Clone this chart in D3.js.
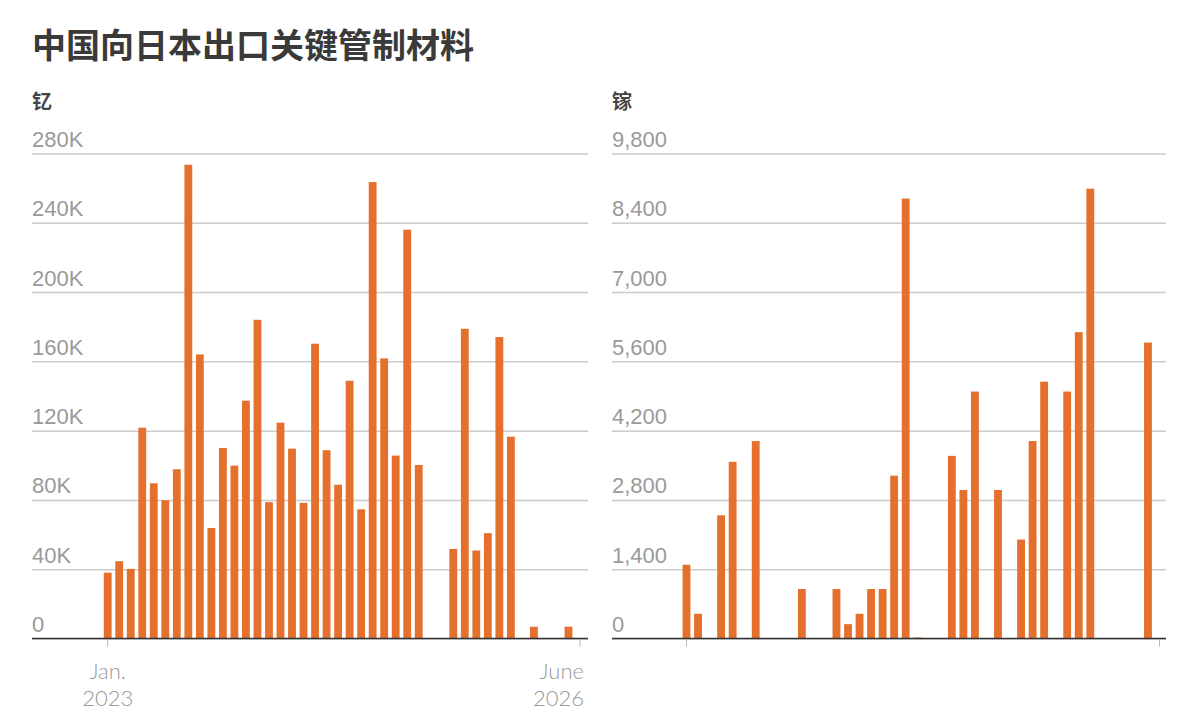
<!DOCTYPE html>
<html>
<head>
<meta charset="UTF-8">
<title>中国向日本出口关键管制材料</title>
<style>
    body {
        margin: 0;
        background-color: #ffffff;
    }
    svg {
        display: block;
        font-family: Lato, "Noto Sans", sans-serif;
    }
    .cjk {
        font-family: "Noto Sans CJK SC", sans-serif;
    }
    .grid line {
        stroke: #cccccc;
        stroke-width: 1.5;
    }
    .grid text, .xlab {
        fill: #9a9a9a;
        font-size: 22px;
        font-weight: 300;
    }
</style>
</head>
<body>
<svg id="chart" width="1200" height="715"></svg>

<script src="https://d3js.org/d3.v7.min.js"></script>
<script>
    // monthly, Jan. 2023 .. June 2026
    var months = d3.timeMonths(new Date(2023, 0, 1), new Date(2026, 6, 1));

    // 钇 (yttrium) exports
    var yttrium = [
        38000, 44600, 40200, 121700, 89600, 79800, 97700, 273500, 164000, 63800, 110000, 99800,
        137300, 184000, 78700, 124600, 109600, 78300, 170200, 108700, 88800, 148800, 74600, 263500,
        161700, 105600, 236000, 100200, 0, 0, 51700, 178800, 50800, 60800, 174000, 116500,
        0, 6800, 0, 0, 6800, 0
    ];

    // 镓 (gallium) exports
    var gallium = [
        1490, 500, 0, 2490, 3570, 0, 3990, 0, 0, 0, 1000, 0,
        0, 1000, 290, 500, 1000, 1000, 3290, 8890, 15, 0, 0, 3690,
        3000, 4990, 0, 3000, 0, 2000, 3990, 5190, 0, 4990, 6190, 9090,
        0, 0, 0, 0, 5980, 0
    ];

    var yttriumTicks = [0, 40000, 80000, 120000, 160000, 200000, 240000, 280000];
    var galliumTicks = [0, 1400, 2800, 4200, 5600, 7000, 8400, 9800];

    var title = "中国向日本出口关键管制材料";
    var xLabels = [["Jan.", "2023"], ["June", "2026"]];

    var svg = d3.select("#chart");
    var barColor = "#e56f2c";
    var plotTop = 153.5, plotBottom = 638.5;

    svg.append("text")
        .attr("class", "cjk")
        .attr("x", 32)
        .attr("y", 58)
        .attr("font-size", 34)
        .attr("font-weight", 700)
        .attr("fill", "#3a3a3a")
        .text(title);

    function panel(opt) {
        var x = d3.scalePoint()
            .domain(months)
            .range([opt.x0, opt.x1]);

        var y = d3.scaleLinear()
            .domain([0, d3.max(opt.ticks)])
            .range([plotBottom, plotTop]);

        var g = svg.append("g");

        g.append("text")
            .attr("class", "cjk")
            .attr("x", opt.left)
            .attr("y", 109)
            .attr("font-size", 20)
            .attr("font-weight", 700)
            .attr("fill", "#444")
            .text(opt.name);

        var axis = d3.axisRight(y)
            .tickValues(opt.ticks)
            .tickSize(opt.right - opt.left)
            .tickFormat(opt.format);

        var grid = g.append("g")
            .attr("class", "grid")
            .attr("transform", "translate(" + opt.left + ",0)")
            .call(axis);
        grid.select(".domain").remove();
        grid.selectAll("text")
            .attr("x", 0)
            .attr("dy", -7)
            .attr("text-anchor", "start");

        var step = x.step();
        g.selectAll(".bar")
            .data(opt.values.map(function(v, i) { return {date: months[i], value: v}; })
                .filter(function(d) { return d.value > 0; }))
            .enter().append("rect")
            .attr("class", "bar")
            .attr("x", function(d) { return x(d.date) - step * 0.34; })
            .attr("width", step * 0.68)
            .attr("y", function(d) { return Math.min(y(d.value), plotBottom - 1); })
            .attr("height", function(d) { return Math.max(plotBottom - y(d.value), 1); })
            .attr("fill", barColor);

        // baseline
        g.append("line")
            .attr("x1", opt.left)
            .attr("x2", opt.right)
            .attr("y1", plotBottom)
            .attr("y2", plotBottom)
            .attr("stroke", "#333")
            .attr("stroke-width", 1.5);

        var ends = [months[0], months[months.length - 1]];
        g.selectAll(".xtick")
            .data(ends)
            .enter().append("line")
            .attr("class", "xtick")
            .attr("x1", function(d) { return x(d); })
            .attr("x2", function(d) { return x(d); })
            .attr("y1", plotBottom + 1)
            .attr("y2", plotBottom + 8)
            .attr("stroke", "#bbbbbb");

        if (opt.labels) {
            ends.forEach(function(d, i) {
                var lx = i === 0 ? x(d) : x(d) + 4;
                var t = g.append("text")
                    .attr("class", "xlab")
                    .attr("text-anchor", i === 0 ? "middle" : "end");
                t.append("tspan").attr("x", lx).attr("y", 679).text(xLabels[i][0]);
                t.append("tspan").attr("x", lx).attr("y", 706).text(xLabels[i][1]);
            });
        }
    }

    panel({
        name: "钇",
        values: yttrium,
        ticks: yttriumTicks,
        format: function(d) { return d === 0 ? "0" : (d / 1000) + "K"; },
        left: 32, right: 588,
        x0: 107.7, x1: 580,
        labels: true
    });

    panel({
        name: "镓",
        values: gallium,
        ticks: galliumTicks,
        format: d3.format(","),
        left: 612, right: 1166,
        x0: 686.5, x1: 1159.5,
        labels: false
    });
</script>
</body>
</html>
